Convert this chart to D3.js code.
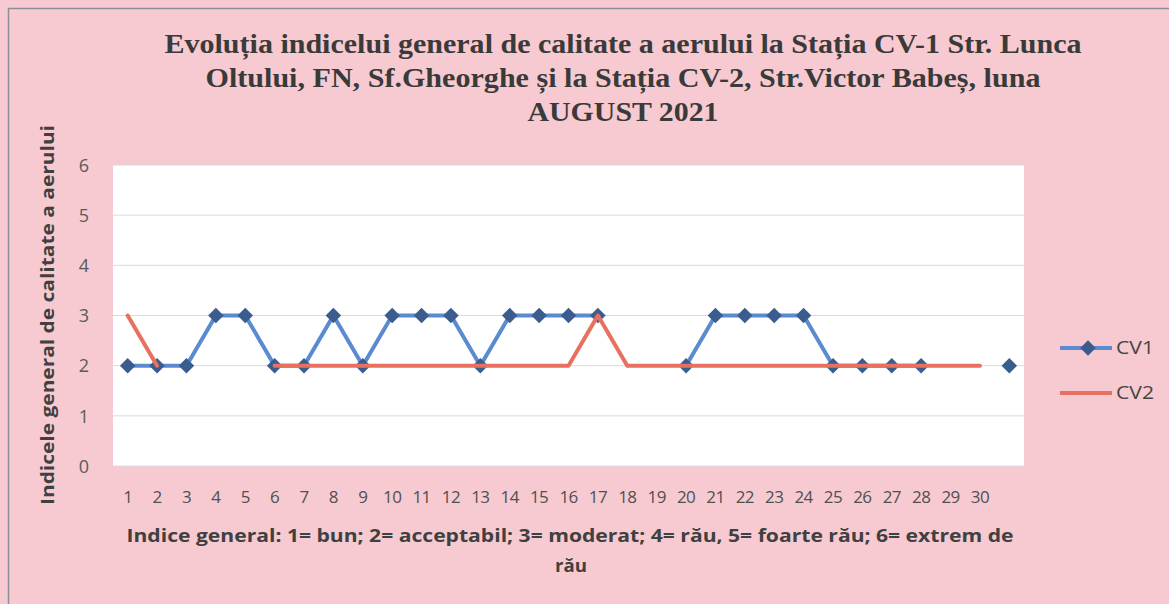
<!DOCTYPE html>
<html>
<head>
<meta charset="utf-8">
<script src="https://cdn.jsdelivr.net/npm/d3@7"></script>
<style>
  html, body { margin: 0; padding: 0; background: #f6cad0; }
  svg { display: block; }
</style>
</head>
<body>
<svg id="chart" width="1169" height="604"></svg>
<script>
// ---- data ----
const categories = d3.range(1, 32);            // days 1..31
const tickLabels = d3.range(1, 31).map(String); // only 1..30 printed
const cv1 = [2,2,2,3,3,2,2,3,2,3,3,3,2,3,3,3,3,null,null,2,3,3,3,3,2,2,2,2,null,null,2];
const cv2 = [3,2,null,null,null,2,2,2,2,2,2,2,2,2,2,2,3,2,2,2,2,2,2,2,2,2,2,2,2,2,null];
const yTicks = [0,1,2,3,4,5,6];
const titleLines = [
  "Evoluția indicelui general de calitate a aerului la Stația CV-1 Str. Lunca",
  "Oltului, FN, Sf.Gheorghe și la Stația CV-2, Str.Victor Babeș, luna",
  "AUGUST 2021"
];
const xTitleLines = [
  "Indice general: 1= bun; 2= acceptabil; 3= moderat; 4= rău, 5= foarte rău; 6= extrem de",
  "rău"
];
const yTitle = "Indicele general  de calitate a aerului";
const seriesNames = ["CV1", "CV2"];

// ---- layout ----
const svg = d3.select("#chart");
const plot = {left: 113, right: 1024, top: 165, bottom: 466};
const pink = "#f6cad0";
const blue = "#5a8bd0";
const blueMarker = "#3b5c8f";
const red = "#e8705e";
const textGray = "#404040";
const sans = "'Open Sans', 'Noto Sans', sans-serif";

svg.append("rect").attr("x", 0).attr("y", 0).attr("width", 1169).attr("height", 604).attr("fill", pink);
svg.append("rect").attr("x", 8.5).attr("y", 8.5).attr("width", 1180).attr("height", 620)
  .attr("fill", "none").attr("stroke", "#8e8e96").attr("stroke-width", 1.5);

const x = d3.scaleBand().domain(categories).range([plot.left, plot.right]);
const y = d3.scaleLinear().domain([0, 6]).range([plot.bottom, plot.top]);

// plot area
svg.append("rect").attr("x", plot.left).attr("y", plot.top)
  .attr("width", plot.right - plot.left).attr("height", plot.bottom - plot.top)
  .attr("fill", "#ffffff");

// gridlines
svg.append("g").selectAll("line").data(yTicks).join("line")
  .attr("x1", plot.left).attr("x2", plot.right)
  .attr("y1", d => y(d)).attr("y2", d => y(d))
  .attr("stroke", "#d6d9ea").attr("stroke-width", 1);

// y axis labels
const yAxis = d3.axisLeft(y).tickValues(yTicks).tickFormat(d3.format("d")).tickSize(0).tickPadding(0);
const gy = svg.append("g").attr("transform", `translate(${plot.left - 29},0)`).call(yAxis);
gy.select(".domain").remove();
gy.selectAll("text").attr("font-family", sans)
  .attr("font-size", 18).attr("fill", "#5a5a5a").attr("text-anchor", "middle").attr("dy", "0.35em");

// x axis labels
const xAxis = d3.axisBottom(x).tickValues(categories.slice(0, tickLabels.length))
  .tickFormat((d, i) => tickLabels[i]).tickSize(0).tickPadding(0);
const gx = svg.append("g").attr("transform", `translate(0,${plot.bottom + 31})`).call(xAxis);
gx.select(".domain").remove();
gx.selectAll("text").attr("font-family", sans)
  .attr("font-size", 17).attr("fill", "#505050").attr("dy", "0.35em").attr("letter-spacing", "-0.6");

// lines
const cx = d => x(d) + x.bandwidth() / 2;
function drawLine(values, color) {
  const line = d3.line()
    .defined(d => d.v !== null)
    .x(d => cx(d.c)).y(d => y(d.v));
  svg.append("path")
    .datum(categories.map((c, i) => ({c, v: values[i]})))
    .attr("d", line).attr("fill", "none").attr("stroke", color)
    .attr("stroke-width", 4).attr("stroke-linejoin", "round").attr("stroke-linecap", "round");
}
drawLine(cv1, blue);

// cv1 markers
const diamond = d3.symbol().type(d3.symbolSquare).size(120);
svg.append("g").selectAll("path")
  .data(categories.map((c, i) => ({c, v: cv1[i]})).filter(d => d.v !== null))
  .join("path")
  .attr("d", diamond)
  .attr("transform", d => `translate(${cx(d.c)},${y(d.v)}) rotate(45)`)
  .attr("fill", blueMarker);

drawLine(cv2, red);

// title
const titleWidths = [917, 835, 191];
const titleBase = [53, 87, 121];
svg.append("g").selectAll("text").data(titleLines).join("text")
  .attr("x", 623).attr("y", (d, i) => titleBase[i])
  .attr("text-anchor", "middle")
  .attr("font-family", "'Liberation Serif', 'DejaVu Serif', serif")
  .attr("font-weight", "bold").attr("font-size", 28)
  .attr("textLength", (d, i) => titleWidths[i]).attr("lengthAdjust", "spacingAndGlyphs")
  .attr("fill", "#3a3a3a")
  .text(d => d);

// x title
const xTitleWidths = [887, 32];
svg.append("g").selectAll("text").data(xTitleLines).join("text")
  .attr("x", (d, i) => i === 0 ? 570 : 571).attr("y", (d, i) => 542 + i * 30)
  .attr("text-anchor", "middle")
  .attr("font-family", sans)
  .attr("font-weight", "bold").attr("font-size", 17)
  .attr("textLength", (d, i) => xTitleWidths[i]).attr("lengthAdjust", "spacingAndGlyphs")
  .attr("fill", textGray)
  .text(d => d);

// y title
svg.append("text")
  .attr("transform", "translate(54,315) rotate(-90)")
  .attr("text-anchor", "middle")
  .attr("font-family", sans)
  .attr("font-weight", "bold").attr("font-size", 17)
  .attr("textLength", 380).attr("lengthAdjust", "spacingAndGlyphs")
  .attr("fill", textGray)
  .text(yTitle);

// legend
const legend = svg.append("g");
const legendY = [348, 393];
const legendColors = [blue, red];
seriesNames.forEach((name, i) => {
  legend.append("line").attr("x1", 1060).attr("x2", 1112)
    .attr("y1", legendY[i]).attr("y2", legendY[i])
    .attr("stroke", legendColors[i]).attr("stroke-width", 4);
  if (i === 0) {
    legend.append("path").attr("d", diamond)
      .attr("transform", `translate(1088,${legendY[i]}) rotate(45)`)
      .attr("fill", blueMarker);
  }
  legend.append("text").attr("x", 1116).attr("y", legendY[i]).attr("dy", "0.36em")
    .attr("font-family", sans)
    .attr("font-size", 17.5).attr("fill", "#444")
    .attr("textLength", 38).attr("lengthAdjust", "spacingAndGlyphs")
    .text(name);
});
</script>
</body>
</html>
